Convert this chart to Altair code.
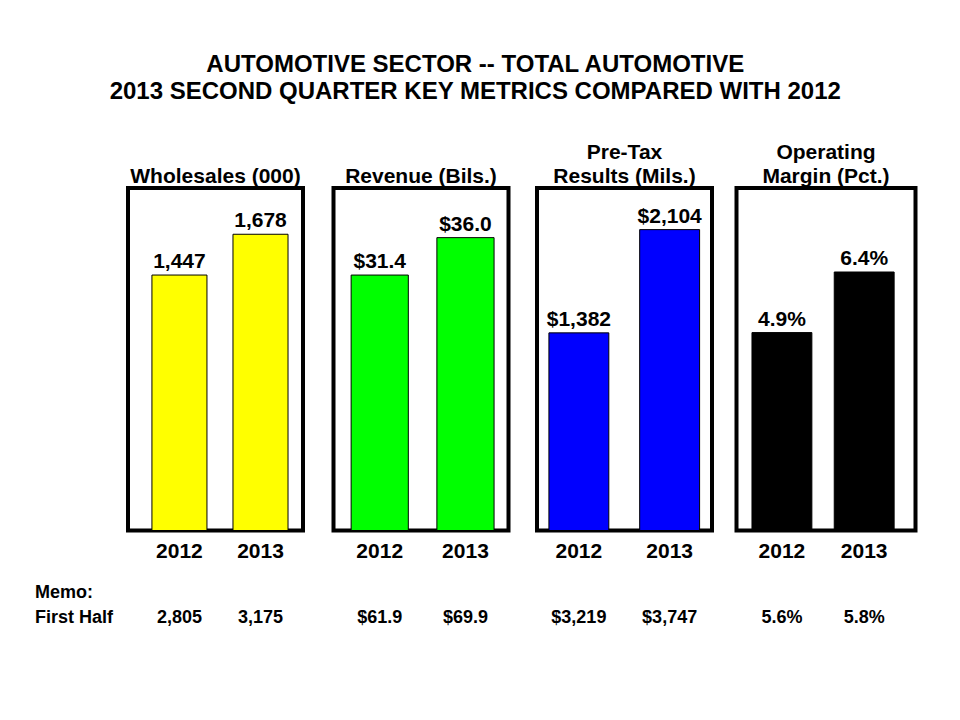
import altair as alt
import pandas as pd

# ---------------- data ----------------
YEARS = ["2012", "2013"]
TITLE = ["AUTOMOTIVE SECTOR -- TOTAL AUTOMOTIVE",
         "2013 SECOND QUARTER KEY METRICS COMPARED WITH 2012"]
PANEL_TITLES = ["Wholesales (000)", "Revenue (Bils.)",
                ["Pre-Tax", "Results (Mils.)"], ["Operating", "Margin (Pct.)"]]
WHOLESALES = [1447, 1678]
REVENUE = [31.4, 36.0]
PRETAX = [1382, 2104]
MARGIN = [4.9, 6.4]
MEMO_WHOLESALES = [2805, 3175]
MEMO_REVENUE = [61.9, 69.9]
MEMO_PRETAX = [3219, 3747]
MEMO_MARGIN = [5.6, 5.8]
MEMO_LABELS = ["Memo:", "First Half"]

# ---------------- styles ----------------
FONT = "Liberation Sans"
COLORS = ["#FFFF00", "#00FF00", "#0000FF", "#000000"]
FORMATS = [
    "format(V, ',d')",
    "'$' + format(V, '.1f')",
    "'$' + format(V, ',d')",
    "format(V, '.1f') + '%'",
]
DOMAIN_MAX = [1940, 42.1, 2395, 8.48]
WIDTHS = [175, 175, 175, 179]
HEIGHT = 342.5
BAND = [  # paddingInner, paddingOuter, align
    (0.321, 0.24, 0.615),
    (0.333, 0.187, 0.55),
    (0.34, 0.134, 0.49),
    (0.272, 0.224, 0.42),
]


def panel(i, values, memo):
    df = pd.DataFrame({"year": YEARS, "value": values, "memo": memo})
    base = alt.Chart(df).transform_calculate(
        label=FORMATS[i].replace("V", "datum.value"),
        memo_label=FORMATS[i].replace("V", "datum.memo"),
    )
    pi, po, al = BAND[i]
    x = alt.X(
        "year:N", sort=YEARS, title=None,
        scale=alt.Scale(paddingInner=pi, paddingOuter=po, align=al),
        axis=alt.Axis(labelAngle=0, ticks=False, domain=False, grid=False,
                      labelFont=FONT, labelFontSize=21, labelFontWeight="bold",
                      labelColor="black", labelPadding=10),
    )
    y = alt.Y("value:Q", axis=None,
              scale=alt.Scale(domain=[0, DOMAIN_MAX[i]], nice=False, zero=True))
    bars = base.mark_bar(color=COLORS[i], stroke="black", strokeWidth=1).encode(x=x, y=y)
    labels = base.mark_text(baseline="alphabetic", dy=-7, font=FONT, fontSize=21,
                            fontWeight="bold", color="black").encode(
        x=x, y=y, text="label:N")
    memo_txt = base.mark_text(baseline="alphabetic", font=FONT, fontSize=18,
                              fontWeight="bold", color="black").encode(
        x=x, y=alt.value(434.7), text="memo_label:N")
    layers = [bars, labels, memo_txt]
    if i == 0:
        for lab, yy in zip(MEMO_LABELS, [410.3, 434.7]):
            layers.append(
                alt.Chart(pd.DataFrame({"t": [lab]})).mark_text(
                    align="left", baseline="alphabetic", font=FONT, fontSize=18,
                    fontWeight="bold", color="black").encode(
                    x=alt.value(-93), y=alt.value(yy), text="t:N")
            )
    return alt.layer(*layers).properties(
        width=WIDTHS[i], height=HEIGHT,
        title=alt.TitleParams(PANEL_TITLES[i], font=FONT, fontSize=21,
                              fontWeight="bold", color="black", anchor="middle",
                              baseline="bottom", lineHeight=24, offset=-20),
    )


p1 = panel(0, WHOLESALES, MEMO_WHOLESALES)
p2 = panel(1, REVENUE, MEMO_REVENUE)
p3 = panel(2, PRETAX, MEMO_PRETAX)
p4 = panel(3, MARGIN, MEMO_MARGIN)

chart = alt.hconcat(
    alt.hconcat(p1, p2, spacing=26.5),
    alt.hconcat(p3, p4, spacing=20.5),
    spacing=24,
).properties(
    title=alt.TitleParams(TITLE, font=FONT, fontSize=24, fontWeight="bold",
                          color="black", anchor="middle", lineHeight=27, offset=36),
    padding={"left": 25, "top": 45, "right": 5, "bottom": 5},
    background="white",
).configure_view(
    stroke="black", strokeWidth=4
)

chart.save("out.html", embed_options={"renderer": "svg", "actions": False})
